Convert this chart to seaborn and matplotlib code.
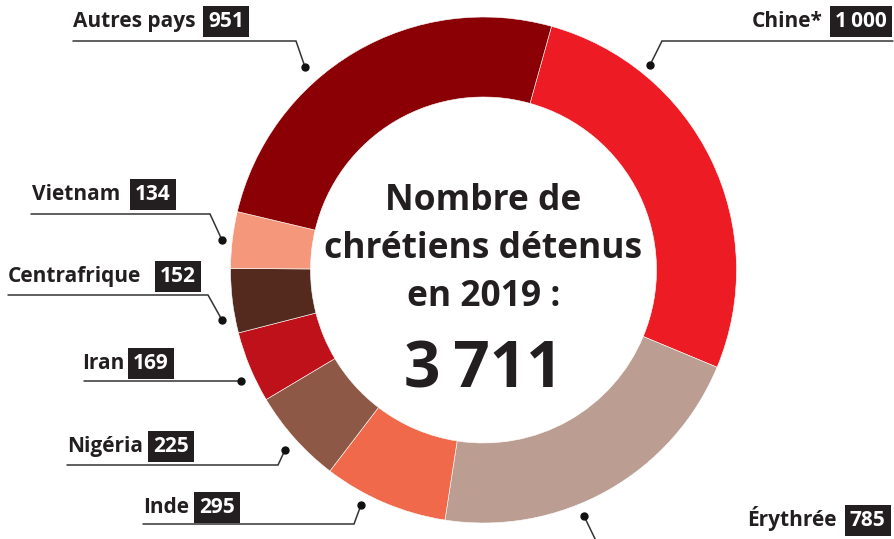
import matplotlib
matplotlib.use("Agg")
import matplotlib.pyplot as plt
import seaborn as sns

# donnees
pays = ["Chine*", "Érythrée", "Inde", "Nigéria", "Iran", "Centrafrique", "Vietnam", "Autres pays"]
detenus = [1000, 785, 295, 225, 169, 152, 134, 951]
etiquettes = ["1\u2009000", "785", "295", "225", "169", "152", "134", "951"]
couleurs = ["#ED1C24", "#BB9D92", "#F0694A", "#8E5846", "#BF111A", "#552A1E", "#F4977A", "#8A0005"]
titre = ["Nombre de", "chrétiens détenus", "en 2019 :"]
total = "3\u2009711"

W, H = 895, 539
sns.set_theme(style="white")
plt.rcParams["font.family"] = ["Open Sans", "DejaVu Sans"]
TXT = "#231F20"

fig = plt.figure(figsize=(W / 100, H / 100), dpi=100)
ax = fig.add_axes([0, 0, 1, 1])

cx, cy, R = 483.5, 270, 253
ax.pie(detenus, colors=couleurs, startangle=74.4, counterclock=False,
       center=(cx, H - cy), radius=R,
       wedgeprops=dict(width=80, edgecolor="white", linewidth=0.4))
ax.set_xlim(0, W)
ax.set_ylim(0, H)
ax.set_aspect("equal")
ax.axis("off")

# texte central
for ligne, base in zip(titre, [210, 258, 306]):
    ax.text(cx, H - base, ligne, ha="center", va="baseline",
            fontsize=25.5, color=TXT, fontweight="bold")
ax.text(cx, H - 387, total, ha="center", va="baseline", fontsize=46,
        color=TXT, fontweight="bold")

# positions des etiquettes (pixels): texte x, baseline y, bord gauche boite, ligne
layout = {
    "Autres pays": dict(tx=73, ty=27, bx=203, line=[(73, 41), (296, 41), (305, 67)]),
    "Chine*": dict(tx=752, ty=27, bx=830, line=[(893, 41), (662, 41), (650, 65)]),
    "Vietnam": dict(tx=32, ty=200, bx=130, line=[(31, 214), (210, 214), (222, 240)]),
    "Centrafrique": dict(tx=8, ty=282, bx=155, line=[(8, 295), (208, 295), (222, 320)]),
    "Iran": dict(tx=82, ty=369, bx=128, line=[(84, 381), (241, 381)]),
    "Nigéria": dict(tx=67, ty=452, bx=148, line=[(67, 465), (278, 465), (285, 450)]),
    "Inde": dict(tx=143, ty=513, bx=194, line=[(143, 524), (354, 524), (361, 505)]),
    "Érythrée": dict(tx=747, ty=526, bx=845, line=[(598, 545), (584, 516)]),
}

for nom, lab in zip(pays, etiquettes):
    p = layout[nom]
    ax.text(p["tx"], H - p["ty"], nom, ha="left", va="baseline", fontsize=15,
            color=TXT, fontweight="bold")
    ax.text(p["bx"] + 5, H - p["ty"], lab, ha="left", va="baseline", fontsize=15,
            color="white", fontweight="bold",
            bbox=dict(boxstyle="square,pad=0.24", fc=TXT, ec="none"))
    xs = [q[0] for q in p["line"]]
    ys = [H - q[1] for q in p["line"]]
    ax.plot(xs, ys, color="#333333", lw=1.1, solid_joinstyle="miter", clip_on=False)
    ax.plot(xs[-1], ys[-1], "o", color="#111111", ms=5)

fig.savefig("out.png", dpi=100)
